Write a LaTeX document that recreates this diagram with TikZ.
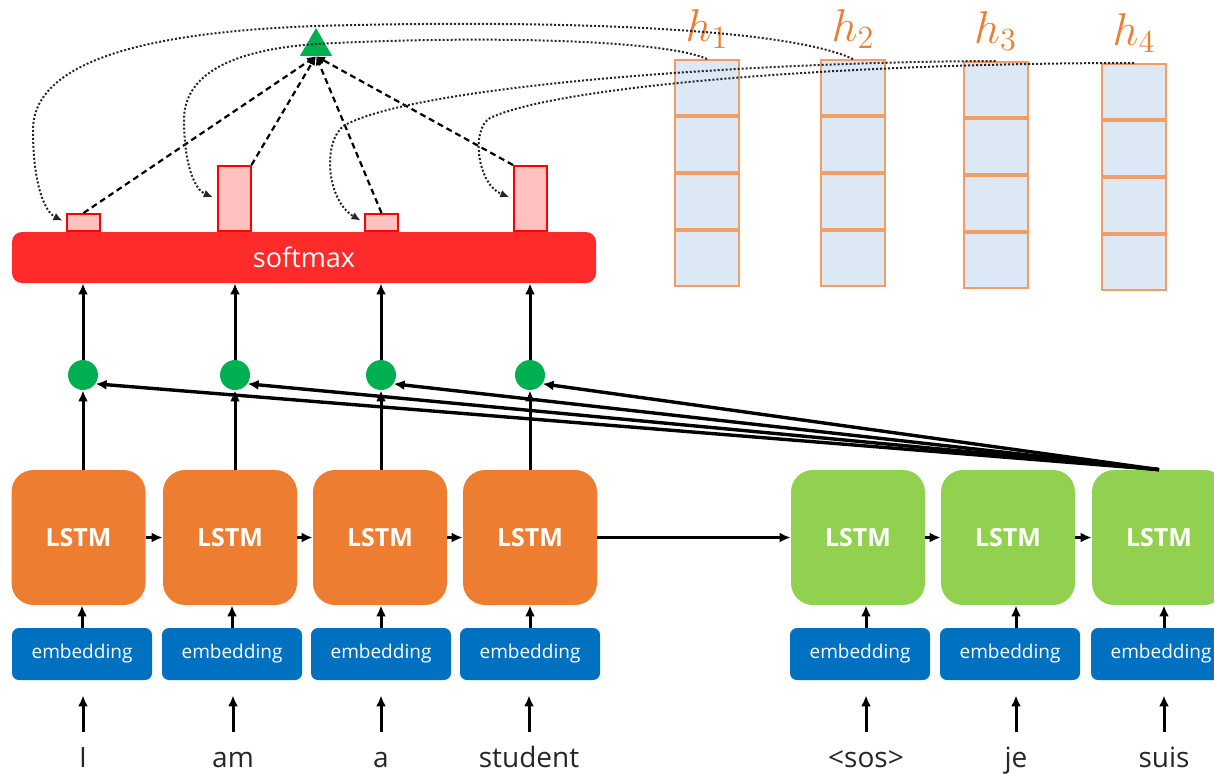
\documentclass[tikz,border=0pt]{standalone}
\usepackage{fix-cm}
\usepackage{fontspec}
\setmainfont{Open Sans}
\usetikzlibrary{positioning,shapes.geometric,arrows.meta}
\definecolor{lor}{RGB}{237,125,49}
\definecolor{lgr}{RGB}{146,208,80}
\definecolor{emb}{RGB}{0,112,192}
\definecolor{smx}{RGB}{255,43,43}
\definecolor{pbar}{RGB}{255,192,192}
\definecolor{gdt}{RGB}{0,176,80}
\definecolor{cell}{RGB}{221,232,245}

\tikzset{
  >={Latex[length=5.5pt,width=5pt]},
  enclstm/.style={rectangle,rounded corners=11pt,fill=lor,text=white,font=\fontsize{12.5}{14}\selectfont\bfseries,minimum width=67pt,minimum height=67.5pt,inner sep=0pt},
  declstm/.style={enclstm,fill=lgr},
  embbox/.style={rectangle,rounded corners=3.5pt,fill=emb,text=white,font=\fontsize{9.5}{11}\selectfont,minimum width=70pt,minimum height=26pt,inner sep=0pt},
  word/.style={anchor=base,inner sep=0pt,text height=11pt,text depth=3pt,font=\fontsize{14}{16}\selectfont,text=black!85},
  gdot/.style={circle,fill=gdt,minimum size=15pt,inner sep=0pt},
  attbar/.style={rectangle,draw=red,fill=pbar,line width=1pt,anchor=south,minimum width=16.5pt,inner sep=0pt},
  hcell/.style={rectangle,draw=lor!75,fill=cell,line width=1pt,minimum width=32pt,minimum height=27.5pt,inner sep=0pt},
  hlab/.style={text=lor,font=\fontsize{23}{26}\selectfont,inner sep=0pt},
  link/.style={->,line width=1.5pt},
  score/.style={->,densely dashed,line width=1.1pt,>={Latex[length=4.5pt,width=4pt]}},
  feed/.style={->,densely dotted,line width=1pt,black!85,shorten >=2pt,>={Latex[length=4.5pt,width=4pt]}},
}

\begin{document}
\begin{tikzpicture}[x=0.5pt,y=-0.5pt]
    \useasboundingbox (0,0) rectangle (1214,773);
    \clip (0,0) rectangle (1214,773);

    % encoder
    \node[enclstm] (enc1) at (78.5,537.5) {LSTM};
    \node[enclstm] (enc2) at (230,537.5) {LSTM};
    \node[enclstm] (enc3) at (380,537.5) {LSTM};
    \node[enclstm] (enc4) at (530,537.5) {LSTM};
    \node[embbox] (emb1) at (82,654) {embedding};
    \node[embbox] (emb2) at (232,654) {embedding};
    \node[embbox] (emb3) at (381,654) {embedding};
    \node[embbox] (emb4) at (530,654) {embedding};
    \node[word] (w1) at (83,767) {I};
    \node[word] (w2) at (233,767) {am};
    \node[word] (w3) at (381,767) {a};
    \node[word] (w4) at (529,767) {student};

    % decoder
    \node[declstm] (dec1) at (858,537.5) {LSTM};
    \node[declstm] (dec2) at (1008,537.5) {LSTM};
    \node[declstm] (dec3) at (1159,537.5) {LSTM};
    \node[embbox] (demb1) at (860,654) {embedding};
    \node[embbox] (demb2) at (1010,654) {embedding};
    \node[embbox] (demb3) at (1161,654) {embedding};
    \node[word] (dw1) at (866,767) {<sos>};
    \node[word] (dw2) at (1016,767) {je};
    \node[word] (dw3) at (1164,767) {suis};

    \draw[link] (emb1.north) -- (emb1.north |- enc1.south);
    \draw[link] (emb2.north) -- (emb2.north |- enc2.south);
    \draw[link] (emb3.north) -- (emb3.north |- enc3.south);
    \draw[link] (emb4.north) -- (emb4.north |- enc4.south);
    \draw[link] (dw1 |- demb1.north) -- (dw1 |- dec1.south);
    \draw[link] (dw2 |- demb2.north) -- (dw2 |- dec2.south);
    \draw[link] (dw3 |- demb3.north) -- (dw3 |- dec3.south);

    \draw[link,shorten <=6.5pt,shorten >=7.5pt] (w1.north) -- (w1.north |- emb1.south);
    \draw[link,shorten <=6.5pt,shorten >=7.5pt] (w2.north) -- (w2.north |- emb2.south);
    \draw[link,shorten <=6.5pt,shorten >=7.5pt] (w3.north) -- (w3.north |- emb3.south);
    \draw[link,shorten <=6.5pt,shorten >=7.5pt] (w4.north) -- (w4.north |- emb4.south);
    \draw[link,shorten <=6.5pt,shorten >=7.5pt] (dw1.north) -- (dw1.north |- demb1.south);
    \draw[link,shorten <=6.5pt,shorten >=7.5pt] (dw2.north) -- (dw2.north |- demb2.south);
    \draw[link,shorten <=6.5pt,shorten >=7.5pt] (dw3.north) -- (dw3.north |- demb3.south);

    \draw[link] (enc1.east) -- (enc2.west);
    \draw[link] (enc2.east) -- (enc3.west);
    \draw[link] (enc3.east) -- (enc4.west);
    \draw[link] (enc4.east) -- (dec1.west);
    \draw[link] (dec1.east) -- (dec2.west);
    \draw[link] (dec2.east) -- (dec3.west);

    % softmax and scores
    \node[rectangle,rounded corners=5pt,fill=smx,text=white,font=\fontsize{13.5}{15}\selectfont,
          minimum width=292pt,minimum height=25.5pt,inner sep=0pt] (soft) at (304,257.5) {softmax};
    \node[attbar,minimum height=8.5pt] (a1) at (83.5,232) {};
    \node[attbar,minimum height=32.5pt] (a2) at (234,232) {};
    \node[attbar,minimum height=8.5pt] (a3) at (381.5,232) {};
    \node[attbar,minimum height=32.5pt] (a4) at (530.5,232) {};

    \node[gdot] (g1) at (83,375) {};
    \node[gdot] (g2) at (235,375) {};
    \node[gdot] (g3) at (381,375) {};
    \node[gdot] (g4) at (530,375) {};

    \draw[link] (g1 |- enc1.north) -- (g1.south);
    \draw[link] (g2 |- enc2.north) -- (g2.south);
    \draw[link] (g3 |- enc3.north) -- (g3.south);
    \draw[link] (g4 |- enc4.north) -- (g4.south);
    \draw[link] (g1.north) -- (g1.north |- soft.south);
    \draw[link] (g2.north) -- (g2.north |- soft.south);
    \draw[link] (g3.north) -- (g3.north |- soft.south);
    \draw[link] (g4.north) -- (g4.north |- soft.south);

    \draw[link,line width=1.7pt] (dec3.north) -- (g1.-35);
    \draw[link,line width=1.7pt] (dec3.north) -- (g2.-35);
    \draw[link,line width=1.7pt] (dec3.north) -- (g3.-35);
    \draw[link,line width=1.7pt] (dec3.north) -- (g4.-35);

    % hidden states
    \node[hcell] (h1a) at (707,87.5) {};
    \node[hcell,below=0pt of h1a] (h1b) {};
    \node[hcell,below=0pt of h1b] (h1c) {};
    \node[hcell,below=0pt of h1c] (h1d) {};
    \node[hcell] (h2a) at (853,87.5) {};
    \node[hcell,below=0pt of h2a] (h2b) {};
    \node[hcell,below=0pt of h2b] (h2c) {};
    \node[hcell,below=0pt of h2c] (h2d) {};
    \node[hcell] (h3a) at (995.5,89.5) {};
    \node[hcell,below=0pt of h3a] (h3b) {};
    \node[hcell,below=0pt of h3b] (h3c) {};
    \node[hcell,below=0pt of h3c] (h3d) {};
    \node[hcell] (h4a) at (1134,91.5) {};
    \node[hcell,below=0pt of h4a] (h4b) {};
    \node[hcell,below=0pt of h4b] (h4c) {};
    \node[hcell,below=0pt of h4c] (h4d) {};
    \node[hlab,above=5pt of h1a] (l1) {$h_1$};
    \node[hlab,above=5pt of h2a] (l2) {$h_2$};
    \node[hlab,above=5pt of h3a] (l3) {$h_3$};
    \node[hlab,above=5pt of h4a] (l4) {$h_4$};

    % attention
    \node[regular polygon,regular polygon sides=3,fill=gdt,minimum size=18.5pt,inner sep=0pt] (ctx) at (316,46.5) {};
    \draw[score] (a1.north) -- (ctx.south);
    \draw[score] (a2.north east) -- (ctx.south);
    \draw[score] (a3.north) -- (ctx.south);
    \draw[score] (a4.north west) -- (ctx.south);

    \draw[feed] (h2a.north) .. controls (780,25) and (520,20) .. (316,26)
        .. controls (150,32) and (33,60) .. (33,130) .. controls (33,185) and (45,212) .. (a1.west);
    \draw[feed] (h1a.north) .. controls (660,38) and (460,36) .. (316,44)
        .. controls (230,50) and (184,75) .. (184,120) .. controls (184,165) and (195,190) .. (a2.west);
    \draw[feed] (h3a.north) .. controls (750,62) and (420,85) .. (345,125)
        .. controls (322,140) and (326,200) .. (a3.west);
    \draw[feed] (h4a.north) .. controls (850,63) and (560,85) .. (490,118)
        .. controls (470,130) and (478,185) .. (a4.west);
\end{tikzpicture}
\end{document}
